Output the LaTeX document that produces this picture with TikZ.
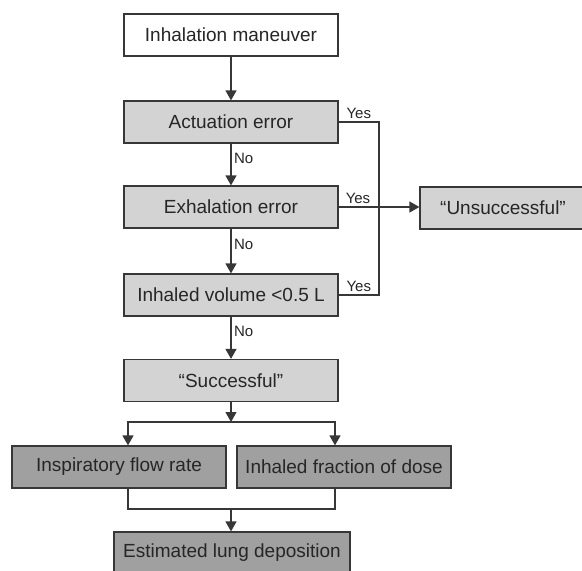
\documentclass[tikz,border=0pt]{standalone}
\usepackage{fontspec}
\setmainfont{Liberation Sans}
\usetikzlibrary{arrows.meta}
\definecolor{boxlight}{RGB}{211,211,211}
\definecolor{boxdark}{RGB}{160,160,160}
\definecolor{edgegray}{RGB}{55,55,55}
\begin{document}
\begin{tikzpicture}[x=1pt,y=-1pt,
        every node/.style={font=\fontsize{19}{22}\selectfont,text=black!85},
        box/.style={draw=edgegray,line width=1.2pt,minimum width=214pt,minimum height=42pt,inner sep=0pt},
        light/.style={box,fill=boxlight},
        dark/.style={box,fill=boxdark},
        lbl/.style={font=\fontsize{15}{17}\selectfont,inner sep=2.5pt},
        conn/.style={draw=edgegray,line width=1.2pt},
        arr/.style={conn,-{Triangle[width=11pt,length=10pt]}}]
            \useasboundingbox (0,0) rectangle (582,571);
            \clip (0,0) rectangle (582,571);
            \node[box,fill=white] (man) at (231,35) {Inhalation maneuver};
            \node[light] (act) at (231,122) {Actuation error};
            \node[light] (exh) at (231,207) {Exhalation error};
            \node[light] (vol) at (231,295) {Inhaled volume <0.5 L};
            \node[light] (suc) at (231,380.5) {``Successful''};
            \node[light,minimum width=166pt] (uns) at (503,208) {``Unsuccessful''};
            \node[dark] (flow) at (119,467) {Inspiratory flow rate};
            \node[dark] (frac) at (344,467) {Inhaled fraction of dose};
            \node[dark,minimum width=236pt] (dep) at (232,553) {Estimated lung deposition};
            \coordinate (rail) at (379,0);
            \coordinate (split) at (231,422);
            \coordinate (join) at (231,509);
            \coordinate (bl) at (128,0);
            \coordinate (br) at (335,0);
            \draw[arr] (man)--(act);
            \draw[arr] (act)--node[lbl,right,pos=0.35]{No}(exh);
            \draw[arr] (exh)--node[lbl,right,pos=0.35]{No}(vol);
            \draw[arr] (vol)--node[lbl,right,pos=0.35]{No}(suc);
            \draw[conn] (act.east)--node[lbl,above]{Yes}(act.east-|rail)--(vol.east-|rail)--node[lbl,above]{Yes}(vol.east);
            \draw[arr] (exh.east)--node[lbl,above,pos=0.24]{Yes}(uns.west|-exh.east);
            \draw[arr] (suc)--(split);
            \draw[arr] (split)-|(bl|-flow.north);
            \draw[arr] (split)-|(br|-frac.north);
            \draw[conn] (bl|-flow.south)|-(join)-|(br|-frac.south);
            \draw[arr] (join)--(join|-dep.north);
        \end{tikzpicture}
\end{document}
